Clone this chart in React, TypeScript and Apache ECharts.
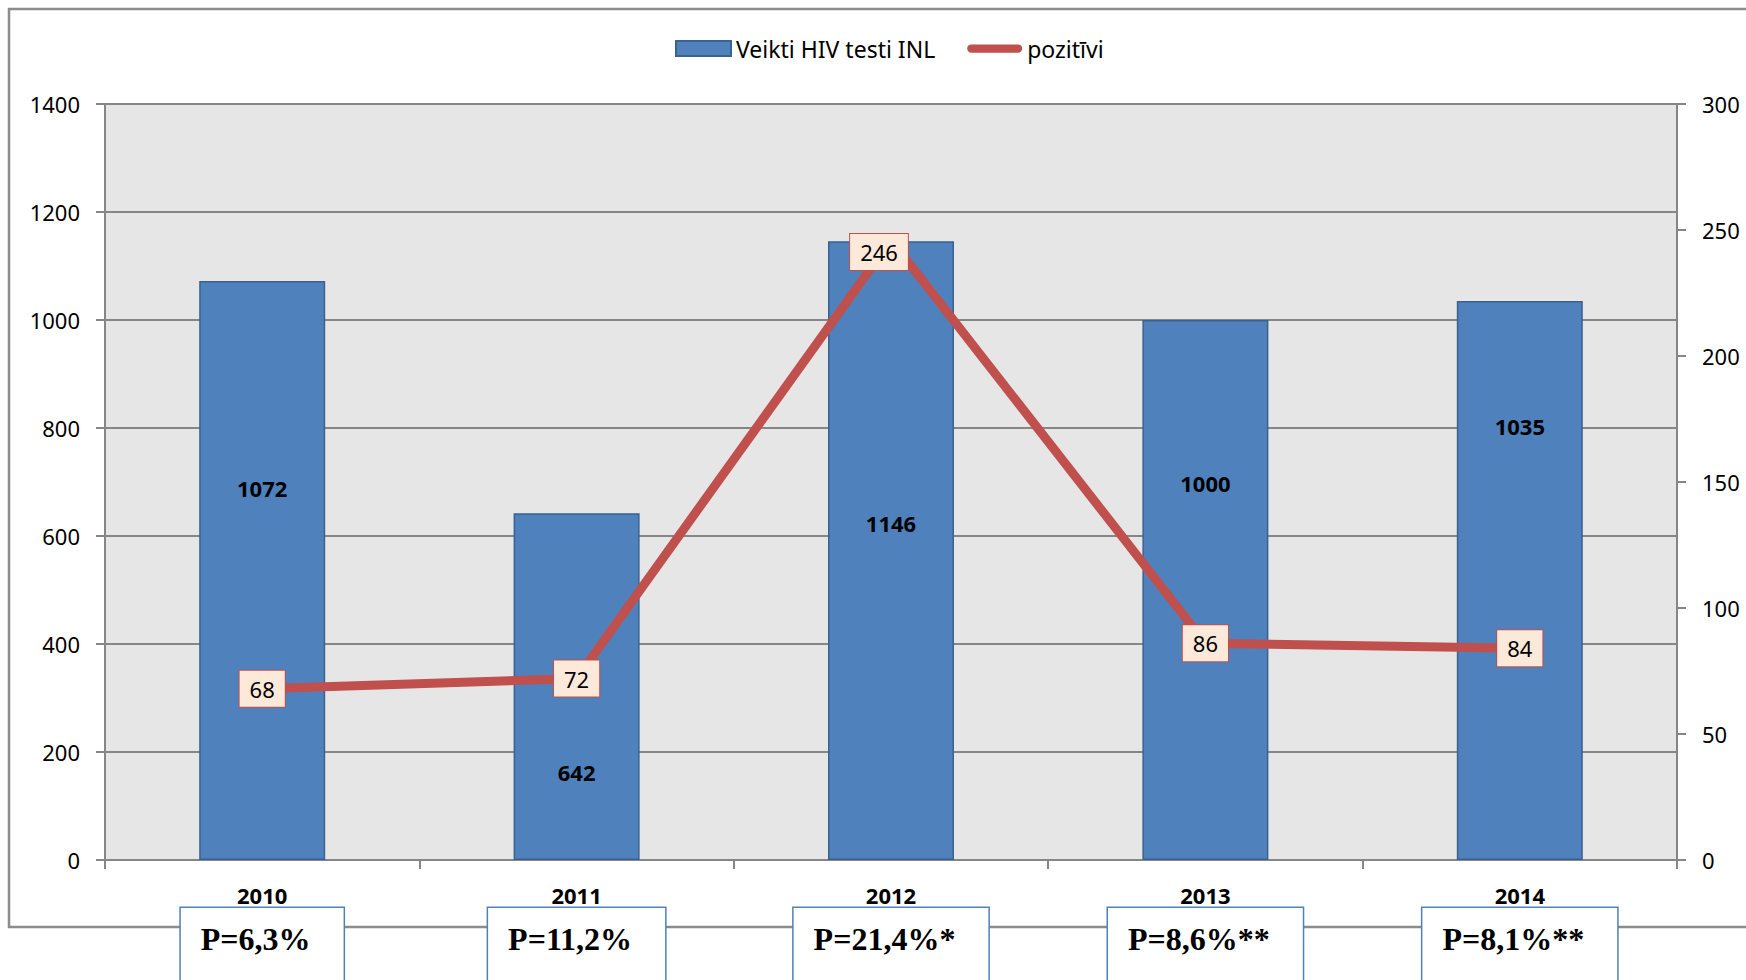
import React, { useEffect, useRef } from "react";
import * as echarts from "echarts";

// ---- data ----
const years = ["2010", "2011", "2012", "2013", "2014"];
const testsDone = [1072, 642, 1146, 1000, 1035];
const positives = [68, 72, 246, 86, 84];
const pLabels = ["P=6,3%", "P=11,2%", "P=21,4%*", "P=8,6%**", "P=8,1%**"];
const seriesNames = ["Veikti HIV testi INL", "pozitīvi"];

// ---- layout (value-axis height where each bar's value label sits) ----
const barLabelAt = [689, 163, 624, 698, 803];

const SANS = "'Noto Sans', 'Open Sans', sans-serif";
const SERIF = "'Liberation Serif', 'DejaVu Serif', serif";
const GRID_GRAY = "#868686";
const LINE_ICON =
  "path://M4.5,0 L55.5,0 A4.5,4.5 0 0 1 55.5,9 L4.5,9 A4.5,4.5 0 0 1 4.5,0 Z";

export default function App() {
  const ref = useRef<HTMLDivElement>(null);

  useEffect(() => {
    document.body.style.margin = "0";
    document.body.style.overflow = "hidden";
    if (!ref.current) return;
    const chart = echarts.init(ref.current, null, { renderer: "svg" });

    const barData = testsDone.map((v, i) => ({
      value: v,
      label: {
        position: ["50%", (((v - barLabelAt[i]) / v) * 100).toFixed(1) + "%"],
      },
    }));

    const lineData = positives.map((v, i) =>
      i === 2 ? { value: v, label: { offset: [-12, 12] } } : v
    );

    const option: any = {
      animation: false,
      backgroundColor: "#ffffff",
      graphic: [
        {
          type: "rect",
          z: -100,
          shape: { x: 9, y: 9, width: 1800, height: 918 },
          style: { fill: "none", stroke: "#8C8C8C", lineWidth: 2.5 },
        },
      ],
      legend: {
        data: [
          { name: seriesNames[0], icon: "rect" },
          { name: seriesNames[1], icon: LINE_ICON },
        ],
        left: 675,
        top: 37,
        itemWidth: 55,
        itemHeight: 15,
        itemGap: 32,
        padding: 0,
        symbolKeepAspect: true,
        textStyle: { fontFamily: SANS, fontSize: 23, color: "#000" },
      },
      grid: {
        left: 105,
        right: 69,
        top: 104,
        bottom: 120,
        show: true,
        backgroundColor: "#E6E6E6",
        borderWidth: 0,
        containLabel: false,
        outerBoundsMode: "none",
      },
      xAxis: [
        {
          type: "category",
          data: years,
          axisLine: { lineStyle: { color: GRID_GRAY, width: 2 } },
          axisTick: {
            show: true,
            alignWithLabel: false,
            length: 9,
            lineStyle: { color: GRID_GRAY, width: 2 },
          },
          axisLabel: {
            interval: 0,
            margin: 24,
            fontFamily: SANS,
            fontWeight: "bold",
            fontSize: 22,
            color: "#000",
          },
        },
        {
          type: "category",
          data: pLabels,
          position: "bottom",
          axisLine: { show: false },
          axisTick: { show: false },
          splitLine: { show: false },
          axisLabel: {
            interval: 0,
            margin: 48,
            fontFamily: SERIF,
            fontWeight: "bold",
            fontSize: 32,
            lineHeight: 34,
            color: "#000",
            backgroundColor: "#ffffff",
            borderColor: "#4F81BD",
            borderWidth: 1.5,
            padding: [14, 33, 60, 20],
          },
        },
      ],
      yAxis: [
        {
          type: "value",
          min: 0,
          max: 1400,
          interval: 200,
          axisLine: { show: true, lineStyle: { color: GRID_GRAY, width: 2 } },
          axisTick: { show: true, length: 9, lineStyle: { color: GRID_GRAY, width: 2 } },
          splitLine: { show: true, lineStyle: { color: GRID_GRAY, width: 2 } },
          axisLabel: {
            fontFamily: SANS,
            fontSize: 22,
            color: "#000",
            margin: 25,
            formatter: (v: number) => String(v),
          },
        },
        {
          type: "value",
          position: "right",
          min: 0,
          max: 300,
          interval: 50,
          axisLine: { show: true, lineStyle: { color: GRID_GRAY, width: 2 } },
          axisTick: { show: true, length: 9, lineStyle: { color: GRID_GRAY, width: 2 } },
          splitLine: { show: false },
          axisLabel: {
            fontFamily: SANS,
            fontSize: 22,
            color: "#000",
            margin: 25,
            formatter: (v: number) => String(v),
          },
        },
      ],
      series: [
        {
          name: seriesNames[0],
          type: "bar",
          xAxisIndex: 0,
          data: barData,
          barWidth: 126,
          itemStyle: { color: "#4F81BD", borderColor: "#3A6291", borderWidth: 1.5 },
          label: {
            show: true,
            align: "center",
            verticalAlign: "middle",
            fontFamily: SANS,
            fontWeight: "bold",
            fontSize: 22,
            color: "#000",
          },
        },
        {
          name: seriesNames[1],
          type: "line",
          xAxisIndex: 0,
          yAxisIndex: 1,
          data: lineData,
          symbol: "circle",
          symbolSize: 2,
          itemStyle: { color: "#C0504D" },
          lineStyle: { color: "#C0504D", width: 9 },
          label: {
            show: true,
            position: "inside",
            fontFamily: SANS,
            fontSize: 22,
            color: "#000",
            backgroundColor: "#FDE9D9",
            borderColor: "#C0504D",
            borderWidth: 1,
            padding: [8, 10, 6, 10],
          },
          z: 3,
        },
      ],
    };

    chart.setOption(option);
    return () => chart.dispose();
  }, []);

  return <div ref={ref} style={{ width: 1746, height: 980 }} />;
}
